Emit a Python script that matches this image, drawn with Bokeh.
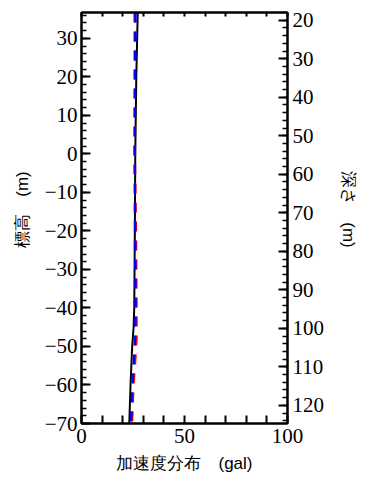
from bokeh.plotting import figure
from bokeh.models import LinearAxis, Range1d, FixedTicker
from bokeh.embed import file_html
from bokeh.resources import INLINE

# Data
elev_black = [36.7, 20, 0, -20, -40, -45, -50, -60, -70]
acc_black = [27.3, 26.6, 26.1, 25.9, 25.6, 25.3, 24.6, 23.8, 23.2]
elev_dash = [36.7, 0, -20, -40, -48, -55, -60, -70]
acc_blue = [26.2, 25.8, 26.0, 26.2, 26.0, 25.3, 24.7, 24.0]
acc_red = [25.8, 25.9, 26.4, 26.7, 26.7, 25.9, 25.2, 24.5]

elev_ticks = [-70, -60, -50, -40, -30, -20, -10, 0, 10, 20, 30]
elev_minor = [v for v in range(-70, 37, 2)]
depth_ticks = [20, 30, 40, 50, 60, 70, 80, 90, 100, 110, 120]
depth_minor = [v for v in range(18, 126, 2)]
x_ticks = [0, 10, 20, 30, 40, 50, 60, 70, 80, 90, 100]
x_labels = {0: "0", 50: "50", 100: "100"}

TICK_FONT = "Liberation Serif"

# width - left - right = 206 (frame), height - top - bottom = 411 (frame)
p = figure(width=365, height=481,
           x_range=Range1d(0, 100), y_range=Range1d(-70, 36.7),
           output_backend="svg", toolbar_location=None,
           min_border_left=81, min_border_right=78,
           min_border_top=12, min_border_bottom=58)
p.extra_y_ranges = {"depth": Range1d(start=124.7, end=18.0)}
p.xgrid.visible = False
p.ygrid.visible = False
p.outline_line_color = "black"
p.outline_line_width = 2

# right axis (depth) and top axis
ra = LinearAxis(y_range_name="depth",
                ticker=FixedTicker(ticks=depth_ticks, minor_ticks=depth_minor))
p.add_layout(ra, "right")
ta = LinearAxis(ticker=FixedTicker(ticks=x_ticks))
ta.major_label_text_color = None
ta.major_label_standoff = 0
ta.major_label_overrides = {t: "" for t in x_ticks}
p.add_layout(ta, "above")

p.xaxis.ticker = FixedTicker(ticks=x_ticks)
p.left[0].ticker = FixedTicker(ticks=elev_ticks, minor_ticks=elev_minor)
p.below[0].major_label_overrides = {t: x_labels.get(t, "") for t in x_ticks}

for ax in p.xaxis + p.yaxis:
    ax.axis_line_width = 2
    ax.axis_line_color = "black"
    ax.major_tick_in = 9
    ax.major_tick_out = 0
    ax.minor_tick_in = 5
    ax.minor_tick_out = 0
    ax.major_tick_line_width = 2
    ax.minor_tick_line_width = 1.5
    ax.major_label_text_font = TICK_FONT
    ax.major_label_text_font_size = "21px"
    ax.axis_label_text_font_size = "17px"
    ax.axis_label_text_font_style = "normal"
    ax.axis_label_text_color = "black"

p.below[0].major_tick_in = 8
p.below[0].minor_tick_in = 0
p.below[0].major_label_standoff = 5
p.below[0].axis_label = "加速度分布\u3000(gal)"
p.below[0].axis_label_standoff = 8
ta.major_tick_in = 4
ta.minor_tick_in = 0
p.left[0].major_label_standoff = 4
p.left[0].axis_label = "\u3000標高\u3000(m)"
p.left[0].axis_label_standoff = 10
ra.major_label_standoff = 5
ra.axis_label = "深さ\u3000(m)\u3000"
ra.axis_label_standoff = 12
p.left[0].major_label_text_color = "black"
ra.major_label_text_color = "black"
p.below[0].major_label_text_color = "black"

p.line(acc_black, elev_black, line_color="black", line_width=2)
p.line(acc_red, elev_dash, line_color="#ff0000", line_width=2.5, line_dash="10 9")
p.line(acc_blue, elev_dash, line_color="#0000ff", line_width=2.5, line_dash="10 9")

open("out.html", "w").write(file_html(p, INLINE))
